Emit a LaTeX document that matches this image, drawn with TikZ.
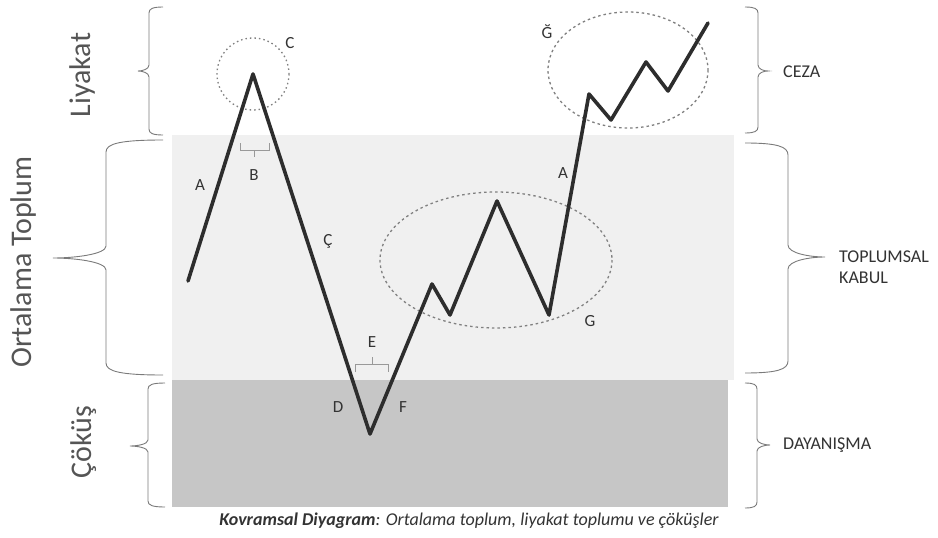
\documentclass[tikz,border=0pt]{standalone}
\usepackage{fontspec}
\setmainfont{Carlito}
\definecolor{lightband}{HTML}{F0F0F0}
\definecolor{darkband}{HTML}{C6C6C6}
\definecolor{zig}{HTML}{2D2D2D}
\definecolor{bracegray}{HTML}{7A7A7A}
\definecolor{ringgray}{HTML}{808080}
\definecolor{txt}{HTML}{333333}
\definecolor{bigtxt}{HTML}{555555}
% #1 xv, #2 y1, #3 y2, #4 xh (arm end), #5 xt (tip), #6 ym, #7 c (curl length)
\newcommand\BraceShape[7]{%
  \draw[bracestyle] (#4,#2)
    .. controls ({#1+0.25*(#4-#1)},#2) and (#1,{#2+0.3*#7}) .. (#1,{#2+#7})
    -- (#1,{#6-#7})
    .. controls (#1,{#6-0.3*#7}) and ({#1+0.6*(#5-#1)},#6) .. (#5,#6)
    .. controls ({#1+0.6*(#5-#1)},#6) and (#1,{#6+0.3*#7}) .. (#1,{#6+#7})
    -- (#1,{#3-#7})
    .. controls (#1,{#3-0.3*#7}) and ({#1+0.25*(#4-#1)},#3) .. (#4,#3);}
\begin{document}
\begin{tikzpicture}[x=1pt,y=-1pt,
  bracestyle/.style={draw=bracegray,line width=0.9pt},
  zigline/.style={draw=zig,line width=3.6pt,line join=round,line cap=round},
  ring/.style={draw=ringgray,line width=1.3pt,dash pattern=on 2.5pt off 3pt},
  ringdot/.style={draw=ringgray,line width=1.3pt,dash pattern=on 1.5pt off 3pt},
  smallbr/.style={draw=ringgray!80,line width=0.9pt},
  letter/.style={text=txt,font=\fontsize{17}{19}\selectfont,inner sep=0pt},
  sidelab/.style={text=txt,font=\fontsize{18}{21}\selectfont,inner sep=0pt,anchor=west,align=left},
  biglab/.style={text=bigtxt,font=\fontsize{30}{34}\selectfont,inner sep=0pt,rotate=90}]
\path[use as bounding box,fill=white] (0,0) rectangle (938,538);
% bands
\fill[lightband] (172,135) rectangle (734,380);
\fill[darkband] (172,380) rectangle (728,507);
% rings
\draw[ringdot] (253,74) circle (36);
\draw[ring] (496,260) ellipse [x radius=116, y radius=68];
\draw[ring] (628,70) ellipse [x radius=80, y radius=58];
% small brackets
\draw[smallbr] (240,143) -- (240,150) -- (269,150) -- (269,143);
\draw[smallbr] (254,150) -- (254,157);
\draw[smallbr] (355,372) -- (355,364) -- (388,364) -- (388,372);
\draw[smallbr] (372,364) -- (372,357);
% zigzag
\coordinate (p0) at (188,281);
\coordinate (p1) at (253,74);
\coordinate (p2) at (370,434);
\coordinate (p3) at (432,284);
\coordinate (p4) at (450,315);
\coordinate (p5) at (497,201);
\coordinate (p6) at (549,315);
\coordinate (p7) at (589,94);
\coordinate (p8) at (611,120);
\coordinate (p9) at (646,62);
\coordinate (p10) at (668,91);
\coordinate (p11) at (708,23);
\draw[zigline] (p0) -- (p1) -- (p2) -- (p3) -- (p4) -- (p5) -- (p6) -- (p7) -- (p8) -- (p9) -- (p10) -- (p11);
% letters
\node[letter] (lC) at (290,43) {C};
\node[letter] (lA1) at (200,185) {A};
\node[letter] (lB) at (254,175) {B};
\node[letter] (lCc) at (328,241) {Ç};
\node[letter] (lE) at (372,342) {E};
\node[letter] (lD) at (338,407) {D};
\node[letter] (lF) at (403,407) {F};
\node[letter] (lG) at (590,321) {G};
\node[letter] (lA2) at (563,173) {A};
\node[letter] (lGg) at (547,32) {Ğ};
% left braces
\BraceShape{149}{7}{135}{163}{138}{71}{6}
\BraceShape{106}{140}{375}{163}{53}{258}{12}
\BraceShape{148}{383}{507}{165}{130}{446}{6}
% right braces
\BraceShape{758}{7}{133}{745}{768}{71}{6}
\BraceShape{788}{143}{373}{745}{825}{257}{12}
\BraceShape{757}{383}{508}{745}{770}{445}{6}
% side labels
\node[biglab] (liy) at (83,75) {Liyakat};
\node[biglab] (ort) at (24,262) {Ortalama Toplum};
\node[biglab] (cok) at (84,442) {Çöküş};
\node[sidelab] (ceza) at (783,72) {CEZA};
\node[sidelab] (top) at (839,267) {TOPLUMSAL\\KABUL};
\node[sidelab] (day) at (783,445) {DAYANIŞMA};
% caption
\node[text=txt,font=\fontsize{18}{20}\selectfont\itshape,inner sep=0pt] (cap) at (469,521)
  {\textbf{Kovramsal Diyagram}: Ortalama toplum, liyakat toplumu ve çöküşler};
\end{tikzpicture}
\end{document}
